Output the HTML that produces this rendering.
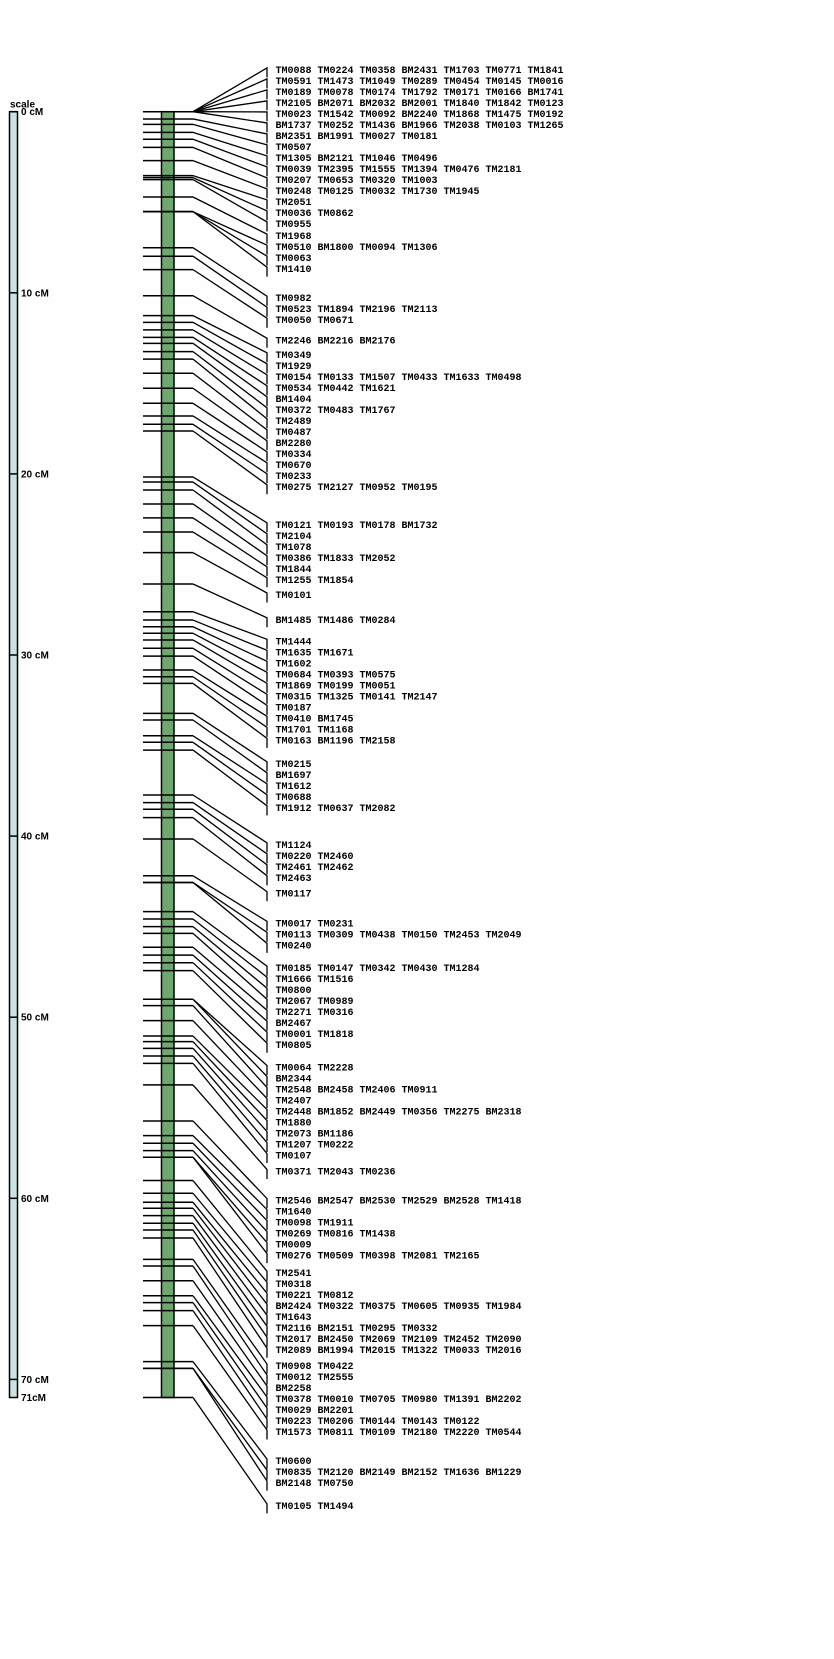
<!DOCTYPE html>
<html><head><meta charset="utf-8"><style>
html,body{margin:0;padding:0;background:#fefefe;}
svg{display:block;}
.lbl{font-family:"Liberation Mono",monospace;font-weight:bold;font-size:10px;fill:#000;}
.sc{font-family:"Liberation Sans",sans-serif;font-weight:bold;font-size:10px;fill:#000;}
</style></head><body>
<svg id="chart" width="834" height="1659" viewBox="0 0 834 1659" xmlns="http://www.w3.org/2000/svg"></svg>
<script>
// marker positions (cM), one per label row
const positions = [
0,0,0,0,0,0,0.40,0.70,1.14,1.52,1.97,2.70,3.53,3.64,3.75,4.71,5.52,5.52,5.52,
7.51,7.98,8.72,10.16,11.26,11.63,12.05,12.46,12.79,13.25,13.66,14.44,15.27,16.10,16.80,17.26,17.63,
20.17,20.45,20.89,21.66,22.43,23.21,24.35,26.08,
27.61,28.07,28.44,28.80,29.17,29.63,30.06,30.83,31.20,31.57,
33.22,33.59,34.46,34.82,35.25,
37.73,38.15,38.52,38.98,40.16,
42.19,42.56,42.56,
44.17,44.58,45.0,45.37,46.14,46.57,46.99,47.43,
49.01,49.01,49.36,50.19,51.04,51.35,51.72,52.14,52.55,53.74,
55.73,56.54,56.96,57.37,57.73,57.73,59.02,59.72,60.22,60.55,60.96,61.38,61.75,62.19,
63.37,63.74,64.55,65.38,65.76,66.20,67.03,
69.02,69.39,69.39,71.0];
const labels = [
"TM0088 TM0224 TM0358 BM2431 TM1703 TM0771 TM1841",
"TM0591 TM1473 TM1049 TM0289 TM0454 TM0145 TM0016",
"TM0189 TM0078 TM0174 TM1792 TM0171 TM0166 BM1741",
"TM2105 BM2071 BM2032 BM2001 TM1840 TM1842 TM0123",
"TM0023 TM1542 TM0092 BM2240 TM1868 TM1475 TM0192",
"BM1737 TM0252 TM1436 BM1966 TM2038 TM0103 TM1265",
"BM2351 BM1991 TM0027 TM0181","TM0507","TM1305 BM2121 TM1046 TM0496",
"TM0039 TM2395 TM1555 TM1394 TM0476 TM2181","TM0207 TM0653 TM0320 TM1003",
"TM0248 TM0125 TM0032 TM1730 TM1945","TM2051","TM0036 TM0862","TM0955","TM1968",
"TM0510 BM1800 TM0094 TM1306","TM0063","TM1410",
"TM0982","TM0523 TM1894 TM2196 TM2113","TM0050 TM0671","TM2246 BM2216 BM2176","TM0349","TM1929",
"TM0154 TM0133 TM1507 TM0433 TM1633 TM0498","TM0534 TM0442 TM1621","BM1404","TM0372 TM0483 TM1767",
"TM2489","TM0487","BM2280","TM0334","TM0670","TM0233","TM0275 TM2127 TM0952 TM0195",
"TM0121 TM0193 TM0178 BM1732","TM2104","TM1078","TM0386 TM1833 TM2052","TM1844","TM1255 TM1854","TM0101",
"BM1485 TM1486 TM0284",
"TM1444","TM1635 TM1671","TM1602","TM0684 TM0393 TM0575","TM1869 TM0199 TM0051","TM0315 TM1325 TM0141 TM2147",
"TM0187","TM0410 BM1745","TM1701 TM1168","TM0163 BM1196 TM2158",
"TM0215","BM1697","TM1612","TM0688","TM1912 TM0637 TM2082",
"TM1124","TM0220 TM2460","TM2461 TM2462","TM2463","TM0117",
"TM0017 TM0231","TM0113 TM0309 TM0438 TM0150 TM2453 TM2049","TM0240",
"TM0185 TM0147 TM0342 TM0430 TM1284","TM1666 TM1516","TM0800","TM2067 TM0989","TM2271 TM0316","BM2467","TM0001 TM1818","TM0805",
"TM0064 TM2228","BM2344","TM2548 BM2458 TM2406 TM0911","TM2407","TM2448 BM1852 BM2449 TM0356 TM2275 BM2318",
"TM1880","TM2073 BM1186","TM1207 TM0222","TM0107","TM0371 TM2043 TM0236",
"TM2546 BM2547 BM2530 TM2529 BM2528 TM1418","TM1640","TM0098 TM1911","TM0269 TM0816 TM1438","TM0009",
"TM0276 TM0509 TM0398 TM2081 TM2165","TM2541","TM0318","TM0221 TM0812","BM2424 TM0322 TM0375 TM0605 TM0935 TM1984",
"TM1643","TM2116 BM2151 TM0295 TM0332","TM2017 BM2450 TM2069 TM2109 TM2452 TM2090","TM2089 BM1994 TM2015 TM1322 TM0033 TM2016",
"TM0908 TM0422","TM0012 TM2555","BM2258","TM0378 TM0010 TM0705 TM0980 TM1391 BM2202","TM0029 BM2201",
"TM0223 TM0206 TM0144 TM0143 TM0122","TM1573 TM0811 TM0109 TM2180 TM2220 TM0544",
"TM0600","TM0835 TM2120 BM2149 BM2152 TM1636 BM1229","BM2148 TM0750","TM0105 TM1494"];
const scaleTicks = [0,10,20,30,40,50,60,70];
const scaleTickLabels = ["0 cM","10 cM","20 cM","30 cM","40 cM","50 cM","60 cM","70 cM"];
const mapLength = 71;
const mapEndLabel = "71cM";

const NS="http://www.w3.org/2000/svg";
const svg=document.getElementById('chart');
const Y0=111.7, PX=18.11;
function yScale(cm){return Y0+cm*PX;}
function mk(tag,attrs,parent){const e=document.createElementNS(NS,tag);for(const k in attrs)e.setAttribute(k,attrs[k]);(parent||svg).appendChild(e);return e;}

// scale bar
const sg=mk('g',{});


mk('rect',{x:9.5,y:yScale(0),width:8,height:yScale(mapLength)-yScale(0),fill:'#c9e2e2',stroke:'#000','stroke-width':1.5},sg);
const st=mk('text',{x:10,y:yScale(0)-4,'class':'sc','font-size':'9'},sg);st.textContent='scale';


scaleTicks.forEach((t,i)=>{
  const y=yScale(t);
  mk('line',{x1:9.5,x2:17.5,y1:y,y2:y,stroke:'#000','stroke-width':1.5},sg);
  const tx=mk('text',{x:21,y:y+3.5,'class':'sc'},sg);tx.textContent=scaleTickLabels[i];
  
  
});
const et=mk('text',{x:21,y:yScale(mapLength)+3.5,'class':'sc'},sg);et.textContent=mapEndLabel;



// label layout: chained spacing, extra space where ticks are far apart
const GAP=11.0;
const labelY=[0];
for(let i=1;i<positions.length;i++){
  const d=yScale(positions[i])-yScale(positions[i-1]);
  const extra=Math.min(30,Math.max(0,(d-16)*0.9));
  labelY.push(labelY[i-1]+GAP+extra);
}
let meanT=0,meanL=0;
positions.forEach((p,i)=>{meanT+=yScale(p);meanL+=labelY[i];});
const shift=(meanT-meanL)/positions.length+58;
for(let i=0;i<labelY.length;i++)labelY[i]+=shift;

// chromosome
const cg=mk('g',{});


mk('rect',{x:161.5,y:yScale(0),width:12.5,height:yScale(mapLength)-yScale(0),fill:'#6fa86f',stroke:'#000','stroke-width':1.5},cg);

positions.forEach((p,i)=>{
  const y=yScale(p), ly=labelY[i];
  const t=mk('line',{x1:143,x2:193,y1:y,y2:y,stroke:'#000','stroke-width':1.5});
  
  
  const c=mk('polyline',{points:`193,${y} 267,${ly} 267,${ly+9.5}`,fill:'none',stroke:'#000','stroke-width':1.3});
  
  
  const tx=mk('text',{x:275.5,y:ly+5,'class':'lbl'});
  tx.textContent=labels[i];
  
  
});
</script>
</body></html>
